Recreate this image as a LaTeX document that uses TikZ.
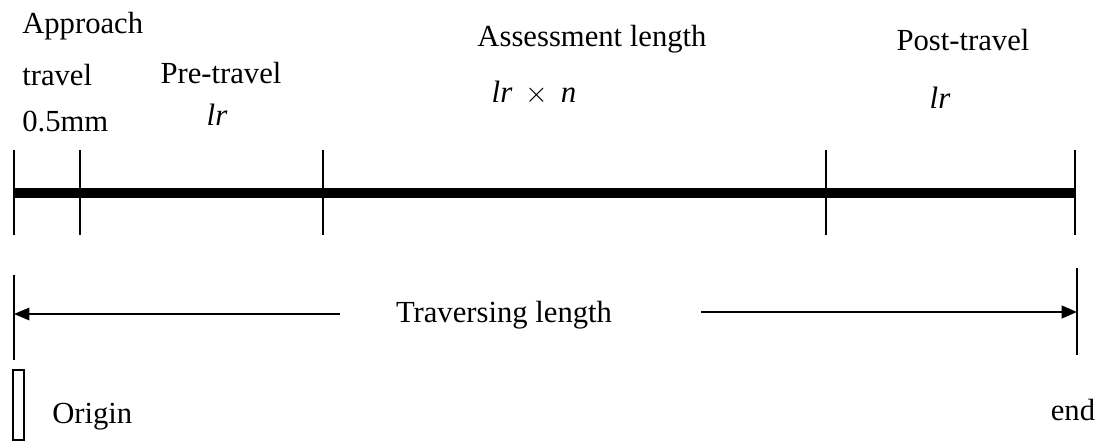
\documentclass[tikz,border=0pt]{standalone}
\usepackage{fontspec}
\setmainfont{Liberation Serif}
\usetikzlibrary{arrows.meta}

\begin{document}
\begin{tikzpicture}[
  x=0.025cm, y=-0.025cm,
  txt/.style={font=\fontsize{21.8}{26}\selectfont, inner sep=0pt, anchor=base},
  lr/.style={font=\fontsize{22}{26}\selectfont\itshape, inner sep=0pt, anchor=base},
  tickline/.style={line width=1.4pt},
]
\useasboundingbox (0,0) rectangle (1102,442);

% Measuring bar
\coordinate (b0) at (14,193);
\coordinate (b4) at (1075,193);
\draw[line width=7.1pt] (b0) -- (b4);

% Division ticks
\draw[tickline] (14,150) -- (14,235);
\draw[tickline] (80,150) -- (80,235);
\draw[tickline] (323,150) -- (323,235);
\draw[tickline] (826,150) -- (826,235);
\draw[tickline] (1075,150) -- (1075,235);

% Labels above the bar
\node[txt, anchor=base west] (appr) at (22,33) {Approach};
\node[txt, anchor=base west] (trav) at (22,85) {travel};
\node[txt, anchor=base west] (half) at (22,131) {0.5mm};
\node[txt] (pre) at (221,83) {Pre-travel};
\node[lr] (prelr) at (217,125) {lr};
\node[txt] (assess) at (592,46) {Assessment length};
\node[lr] (asslr) at (534,102) {lr \,$\times$\, n};
\node[txt] (post) at (963,50) {Post-travel};
\node[lr] (postlr) at (940,108) {lr};

% Traversing length
\coordinate (s0) at (14,275);
\coordinate (s1) at (14,360);
\coordinate (e0) at (1077,268);
\coordinate (e1) at (1077,355);
\draw[tickline] (s0) -- (s1);
\draw[tickline] (e0) -- (e1);
\node[txt] (travlen) at (504,322) {Traversing length};
\coordinate (la) at (340,314);
\coordinate (ra) at (701,312);
\draw[line width=0.9pt, -{Triangle[length=11pt, width=9pt]}] (la) -- (s0 |- la);
\draw[line width=1.8pt, -{Triangle[length=11pt, width=9pt]}] (ra) -- (e0 |- ra);

% Origin and end
\node[draw, line width=1.1pt, minimum width=7.5pt, minimum height=50pt, inner sep=0pt] (orig) at (18.5,405) {};
\node[txt, anchor=base west] (origin) at (52,423) {Origin};
\node[txt] (endlab) at (1073,420) {end};
\end{tikzpicture}
\end{document}
